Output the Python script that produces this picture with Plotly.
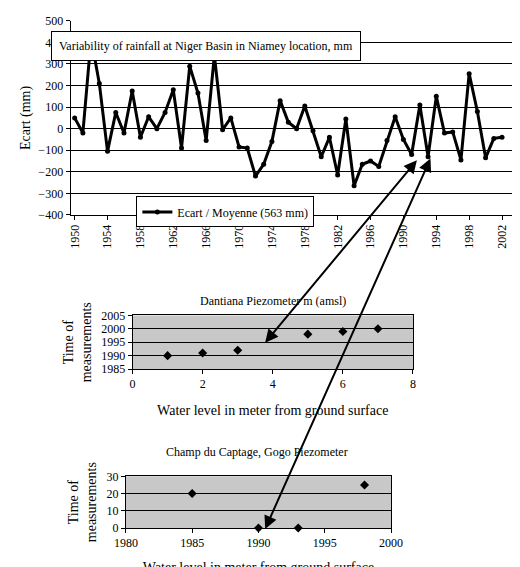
import plotly.graph_objects as go

# rainfall deviation from mean, Niamey
years = list(range(1950, 2003))
ecart = [50, -20, 420, 210, -105, 75, -20, 175, -40, 55, 0, 75, 180, -90, 290, 165, -55, 340, -5, 50,
         -85, -90, -220, -165, -60, 130, 30, 0, 105, -10, -130, -40, -215, 45, -265, -165, -150, -175, -55, 55,
         -50, -120, 110, -130, 150, -20, -15, -145, 255, 80, -135, -45, -40]

# Dantiana piezometer
dan_x = [1, 2, 3, 5, 6, 7]
dan_y = [1990, 1991, 1992, 1998, 1999, 2000]

# Champ du Captage, Gogo
gogo_x = [1985, 1990, 1993, 1998]
gogo_y = [20, 0, 0, 25]

H, W = 567, 520
def py(p):
    return 1 - p / H
def px_(p):
    return p / W

font = dict(family="Liberation Serif, Times New Roman, serif", size=12, color="black")

fig = go.Figure()
fig.add_trace(go.Scatter(x=years, y=ecart, mode="lines+markers", name="Ecart / Moyenne (563 mm)",
                         line=dict(color="black", width=3), marker=dict(color="black", size=5),
                         xaxis="x", yaxis="y"))
fig.add_trace(go.Scatter(x=dan_x, y=dan_y, mode="markers", showlegend=False,
                         marker=dict(symbol="diamond", color="black", size=7), xaxis="x2", yaxis="y2"))
fig.add_trace(go.Scatter(x=gogo_x, y=gogo_y, mode="markers", showlegend=False, cliponaxis=False,
                         marker=dict(symbol="diamond", color="black", size=7), xaxis="x3", yaxis="y3"))

ax_common = dict(showline=True, linecolor="black", linewidth=1, ticks="outside", tickcolor="black",
                 ticklen=4, zeroline=False)
fig.update_layout(
    width=W, height=H, margin=dict(l=0, r=0, t=0, b=0),
    paper_bgcolor="white", plot_bgcolor="white", font=font,
    xaxis=dict(domain=[px_(53), 1.0], range=[1949.5, 2003.7], tickvals=list(range(1950, 2003, 4)),
               tickangle=-90, showgrid=False, anchor="y", **ax_common),
    yaxis=dict(domain=[py(205), py(6)], range=[-400, 500], dtick=100, showgrid=True, gridcolor="black",
               gridwidth=1, title=dict(text="Ecart (mm)", standoff=4), anchor="x", **ax_common),
    xaxis2=dict(domain=[px_(118), px_(412)], range=[0, 8], dtick=2, showgrid=False, anchor="y2",
                title=dict(text="Water level in meter from ground surface", standoff=14), **ax_common),
    yaxis2=dict(domain=[py(363), py(308)], range=[1985, 2005], dtick=5, showgrid=True, gridcolor="black",
                title=dict(text="Time of<br>measurements", standoff=6), anchor="x2", mirror=True, **ax_common),
    xaxis3=dict(domain=[px_(111), px_(389)], range=[1980, 2000], dtick=5, showgrid=False, anchor="y3",
                title=dict(text="Water level in meter from ground surface", standoff=14), **ax_common),
    yaxis3=dict(domain=[py(526), py(473)], range=[0, 30], dtick=10, showgrid=True, gridcolor="black",
                title=dict(text="Time of<br>measurements", standoff=6), anchor="x3", mirror=True, **ax_common),
    legend=dict(x=px_(122), y=py(186), xanchor="left", yanchor="top", bgcolor="white",
                bordercolor="black", borderwidth=1, font=font),
)
fig.update_xaxes(mirror=True, selector=dict(anchor="y2"))
fig.update_xaxes(mirror=True, selector=dict(anchor="y3"))

# grey plot areas for the piezometer charts
for xr, yr in [((118, 412), (308, 363)), ((111, 389), (473, 526))]:
    fig.add_shape(type="rect", xref="paper", yref="paper", x0=px_(xr[0]), x1=px_(xr[1]),
                  y0=py(yr[1]), y1=py(yr[0]), fillcolor="#c8c8c8", line=dict(width=0), layer="below")

fig.add_annotation(text="Variability of rainfall at Niger Basin in Niamey location, mm", xref="paper",
                   yref="paper", x=px_(195), y=py(16), showarrow=False, bgcolor="white",
                   bordercolor="black", borderwidth=1, borderpad=7, font=font)
fig.add_annotation(text="Dantiana Piezometer m (amsl)", xref="paper", yref="paper", x=px_(265), y=py(293),
                   showarrow=False, font=font)
fig.add_annotation(text="Champ du Captage, Gogo Piezometer", xref="paper", yref="paper", x=px_(248),
                   y=py(457), showarrow=False, font=font)

# double-headed arrows linking the dry years to the piezometers
for x0, y0, x1, y1 in [(410, 152, 257, 336), (423, 155, 257, 527)]:
    fig.add_annotation(xref="paper", yref="paper", x=px_(x1), y=py(y1), ax=x0 - x1, ay=y0 - y1,
                       axref="pixel", ayref="pixel", text="", showarrow=True, arrowhead=2,
                       startarrowhead=2, arrowside="end+start", arrowsize=1.3, arrowwidth=2,
                       arrowcolor="black")

fig.write_html("out.html")
